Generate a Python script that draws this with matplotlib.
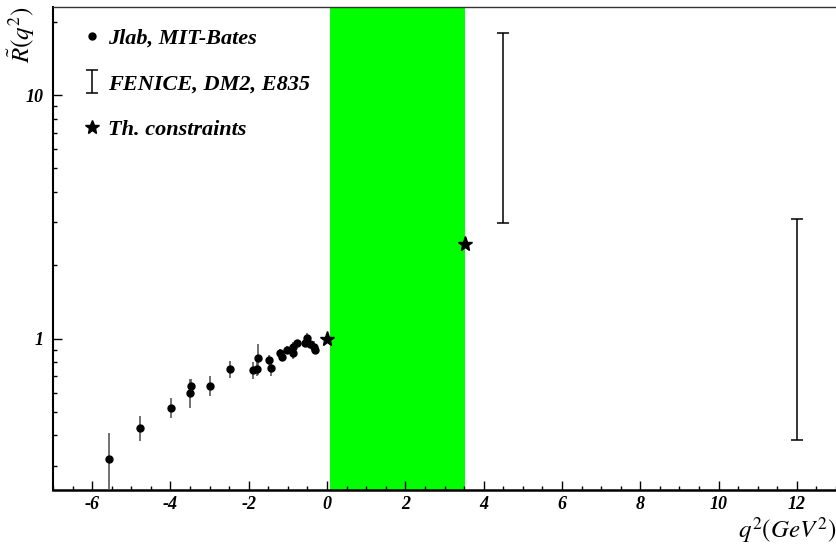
import matplotlib
matplotlib.use("Agg")
import matplotlib.pyplot as plt
from matplotlib.lines import Line2D
from matplotlib.ticker import FixedLocator, FixedFormatter, LogLocator, NullFormatter, MultipleLocator

plt.rcParams['mathtext.fontset'] = 'stix'

# ---- data ----
jlab_x = [-5.56, -4.77, -3.98, -3.51, -3.47, -2.98, -2.47, -1.89, -1.78, -1.77, -1.49, -1.42,
          -1.20, -1.14, -1.03, -0.87, -0.86, -0.77, -0.57, -0.52, -0.43, -0.34, -0.32]
jlab_y = [0.32, 0.43, 0.52, 0.60, 0.64, 0.64, 0.75, 0.74, 0.75, 0.83, 0.82, 0.755,
          0.875, 0.84, 0.90, 0.875, 0.925, 0.96, 0.955, 1.01, 0.95, 0.925, 0.90]
jlab_err = [0.09, 0.05, 0.05, 0.08, 0.04, 0.06, 0.06, 0.06, 0.05, 0.12, 0.04, 0.05,
            0.03, 0.03, 0.03, 0.05, 0.04, 0.03, 0.03, 0.04, 0.03, 0.05, 0.03]

timelike_x = [4.5, 12.0]
timelike_lo = [2.98, 0.384]
timelike_hi = [18.0, 3.10]

th_x = [0.0, 3.52]
th_y = [1.0, 2.45]

band_lo, band_hi = 0.078, 3.52

xtick_vals = [-6, -4, -2, 0, 2, 4, 6, 8, 10, 12]
xtick_labels = ['-6', '-4', '-2', '0', '2', '4', '6', '8', '10', '12']
ytick_vals = [1, 10]
ytick_labels = ['1', '10']

legend_labels = ['Jlab, MIT-Bates', 'FENICE, DM2, E835', 'Th. constraints']

# ---- figure ----
W, H = 836, 544
fig = plt.figure(figsize=(W / 100, H / 100), dpi=100)
ax = fig.add_axes([53 / W, 54.5 / H, 783 / W, 483 / H])

ax.set_xlim(-7, 13)
ax.set_yscale('log')
ax.set_ylim(0.24, 23.1)

ax.axvspan(band_lo, band_hi, color='#00ff00', lw=0, zorder=1)

ax.errorbar(jlab_x, jlab_y, yerr=jlab_err, fmt='none', ecolor='0.35', elinewidth=1.2, zorder=3)
ax.plot(jlab_x, jlab_y, 'o', color='black', ms=5, zorder=4)

mid = [(lo + hi) / 2 for lo, hi in zip(timelike_lo, timelike_hi)]
yerr = [[m - lo for m, lo in zip(mid, timelike_lo)], [hi - m for m, hi in zip(mid, timelike_hi)]]
eb = ax.errorbar(timelike_x, mid, yerr=yerr, fmt='none', ecolor='black', elinewidth=1.1,
                 capsize=4.5, capthick=1.1, zorder=3)

ax.plot(th_x, th_y, '*', color='black', ms=11, zorder=5)

# ticks
tfont = dict(family='Liberation Serif', weight='bold', style='italic', size=13)
ax.xaxis.set_major_locator(FixedLocator(xtick_vals))
ax.xaxis.set_major_formatter(FixedFormatter(xtick_labels))
ax.xaxis.set_minor_locator(MultipleLocator(0.5))
ax.yaxis.set_major_locator(FixedLocator(ytick_vals))
ax.yaxis.set_major_formatter(FixedFormatter(ytick_labels))
ax.yaxis.set_minor_locator(LogLocator(base=10, subs=[2, 3, 4, 5, 6, 7, 8, 9]))
ax.yaxis.set_minor_formatter(NullFormatter())
for lab in ax.get_xticklabels() + ax.get_yticklabels():
    lab.set_fontproperties(matplotlib.font_manager.FontProperties(**tfont))

ax.tick_params(axis='both', which='major', direction='in', length=6.5, width=1.0, color='black')
ax.tick_params(axis='both', which='minor', direction='in', length=3.2, width=1.0, color='black')
ax.tick_params(axis='x', which='major', pad=5)
ax.tick_params(axis='y', which='major', pad=7)
ax.tick_params(top=False, right=False, which='both')

ax.spines['right'].set_visible(False)
ax.spines['left'].set_linewidth(1.5)
ax.spines['bottom'].set_linewidth(1.8)
ax.spines['top'].set_linewidth(1.0)
ax.spines['top'].set_color('0.2')

# axis titles
ax.set_xlabel(r'$q^2(GeV^2)$', fontsize=18, loc='right')
ax.xaxis.set_label_coords(1.0, -0.052)
ax.xaxis.label.set_ha('right')
ax.set_ylabel(r'$\tilde{R}(q^2)$', fontsize=18, loc='top')
ax.yaxis.set_label_coords(-0.021, 1.0)

# legend
h1 = Line2D([], [], marker='o', color='black', ls='none', ms=5)
h3 = Line2D([], [], marker='*', color='black', ls='none', ms=10)
leg = ax.legend([h1, eb, h3], legend_labels, loc='upper left', bbox_to_anchor=(0.038, 0.955),
                frameon=False, borderaxespad=0, borderpad=0, handlelength=0.8,
                handletextpad=0.35, labelspacing=1.12,
                prop=matplotlib.font_manager.FontProperties(family='Liberation Serif',
                                                            weight='bold', style='italic', size=16))
for ln in leg.legend_handles[1].get_children() if hasattr(leg.legend_handles[1], 'get_children') else []:
    try:
        ln.set_color('0.35')
    except Exception:
        pass

fig.savefig('out.png', dpi=100)
